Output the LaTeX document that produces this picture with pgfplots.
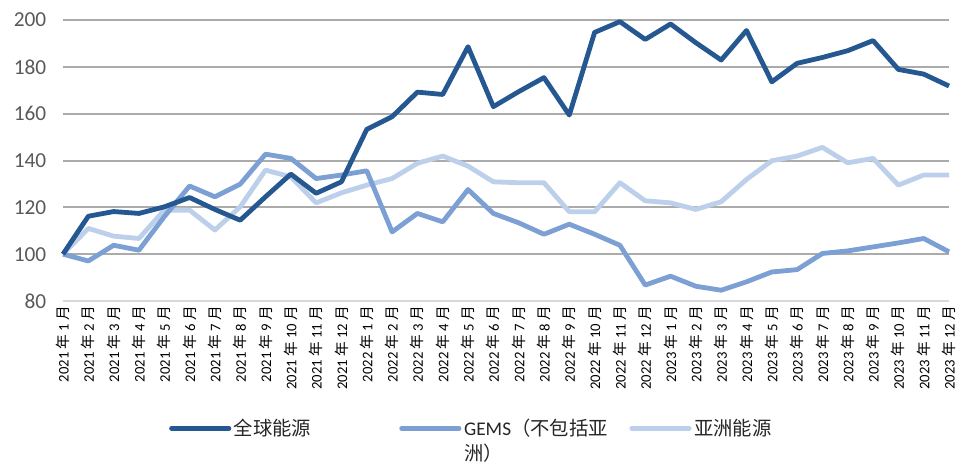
\documentclass[border=0pt]{standalone}
\usepackage{pgfplots}
\pgfplotsset{compat=1.18}
\usepackage{pgfplotstable}
\usepackage{fontspec}
\setmainfont{Carlito}
\newfontfamily\cjk{Noto Sans CJK SC}

\definecolor{globalc}{HTML}{255891}
\definecolor{gemsc}{HTML}{7C9FD4}
\definecolor{asiac}{HTML}{BDD0EB}
\definecolor{gridc}{HTML}{ABABAB}
\definecolor{basec}{HTML}{D9D9D9}
\definecolor{tickc}{HTML}{595959}

\newcommand{\ym}[2]{#1 {\cjk 年} #2 {\cjk 月}}

% month index, global energy, GEMS ex Asia, Asia energy
\pgfplotstableread{
m  glob   gems   asia
1  100.0  100.0  100.0
2  116.2   97.1  111.0
3  118.2  103.8  107.7
4  117.4  101.7  106.7
5  120.2  116.0  118.8
6  124.2  129.1  118.8
7  119.1  124.5  110.3
8  114.5  129.9  120.2
9  124.5  142.7  135.9
10 134.2  140.9  133.0
11 126.0  132.3  121.9
12 130.9  133.8  126.2
13 153.3  135.6  129.5
14 158.7  109.5  132.3
15 169.2  117.4  138.8
16 168.2  113.8  141.9
17 188.6  127.6  137.6
18 163.0  117.4  130.9
19 169.4  113.4  130.5
20 175.4  108.5  130.5
21 159.4  112.8  118.1
22 194.7  108.5  118.1
23 199.3  103.8  130.5
24 191.7   86.8  122.8
25 198.3   90.6  121.9
26 190.3   86.3  119.1
27 182.9   84.6  122.4
28 195.5   88.2  131.9
29 173.6   92.4  139.9
30 181.5   93.4  141.9
31 184.0  100.3  145.6
32 186.9  101.4  139.0
33 191.2  103.1  140.9
34 178.9  104.8  129.5
35 176.9  106.7  133.8
36 171.8  101.0  133.8
}\datatable

\begin{document}
\begin{tikzpicture}
\begin{axis}[
    width=664.5pt, height=210.75pt, scale only axis,
    xmin=1, xmax=36, ymin=80, ymax=200,
    axis x line*=bottom, axis y line*=left,
    x axis line style={-, color=basec, line width=1.5pt},
    y axis line style={draw=none},
    ytick={100,120,...,200},
    extra y ticks={80},
    extra y tick style={grid=none},
    ymajorgrids=true,
    grid style={color=gridc, line width=1.5pt},
    major tick length=0pt,
    /pgf/number format/assume math mode=true,
    yticklabel style={font=\fontsize{16}{18}\selectfont, text=tickc, xshift=-9pt},
    xtick={1,...,36},
    xticklabels={\ym{2021}{1},\ym{2021}{2},\ym{2021}{3},\ym{2021}{4},\ym{2021}{5},\ym{2021}{6},
        \ym{2021}{7},\ym{2021}{8},\ym{2021}{9},\ym{2021}{10},\ym{2021}{11},\ym{2021}{12},
        \ym{2022}{1},\ym{2022}{2},\ym{2022}{3},\ym{2022}{4},\ym{2022}{5},\ym{2022}{6},
        \ym{2022}{7},\ym{2022}{8},\ym{2022}{9},\ym{2022}{10},\ym{2022}{11},\ym{2022}{12},
        \ym{2023}{1},\ym{2023}{2},\ym{2023}{3},\ym{2023}{4},\ym{2023}{5},\ym{2023}{6},
        \ym{2023}{7},\ym{2023}{8},\ym{2023}{9},\ym{2023}{10},\ym{2023}{11},\ym{2023}{12}},
    xticklabel style={rotate=90, anchor=east, font=\fontsize{11}{12}\selectfont, text=black, yshift=0pt},
    clip=false,
    reverse legend,
    legend columns=3,
    legend style={at={(0.115,-0.40)}, anchor=north west, draw=none,
        font=\fontsize{14.5}{19}\selectfont, text=black!85,
        /tikz/every even column/.append style={column sep=2pt}},
    legend cell align=left,
    legend image code/.code={\draw[#1, line cap=round] (0pt,0pt) -- (43pt,0pt);},
    every axis plot/.append style={line join=round, line width=3.6pt},
]
\addplot[color=asiac] table[x=m, y=asia] {\datatable};
\addlegendentry{\parbox[t]{120pt}{\cjk 亚洲能源}}
\addplot[color=gemsc] table[x=m, y=gems] {\datatable};
\addlegendentry{\parbox[t]{120pt}{GEMS{\cjk （不包括亚}\\{\cjk 洲）}}}
\addplot[color=globalc] table[x=m, y=glob] {\datatable};
\addlegendentry{\parbox[t]{120pt}{\cjk 全球能源}}
\end{axis}
\path (-47.25pt,-130.5pt) rectangle (682.5pt,225.75pt);
\end{tikzpicture}
\end{document}
